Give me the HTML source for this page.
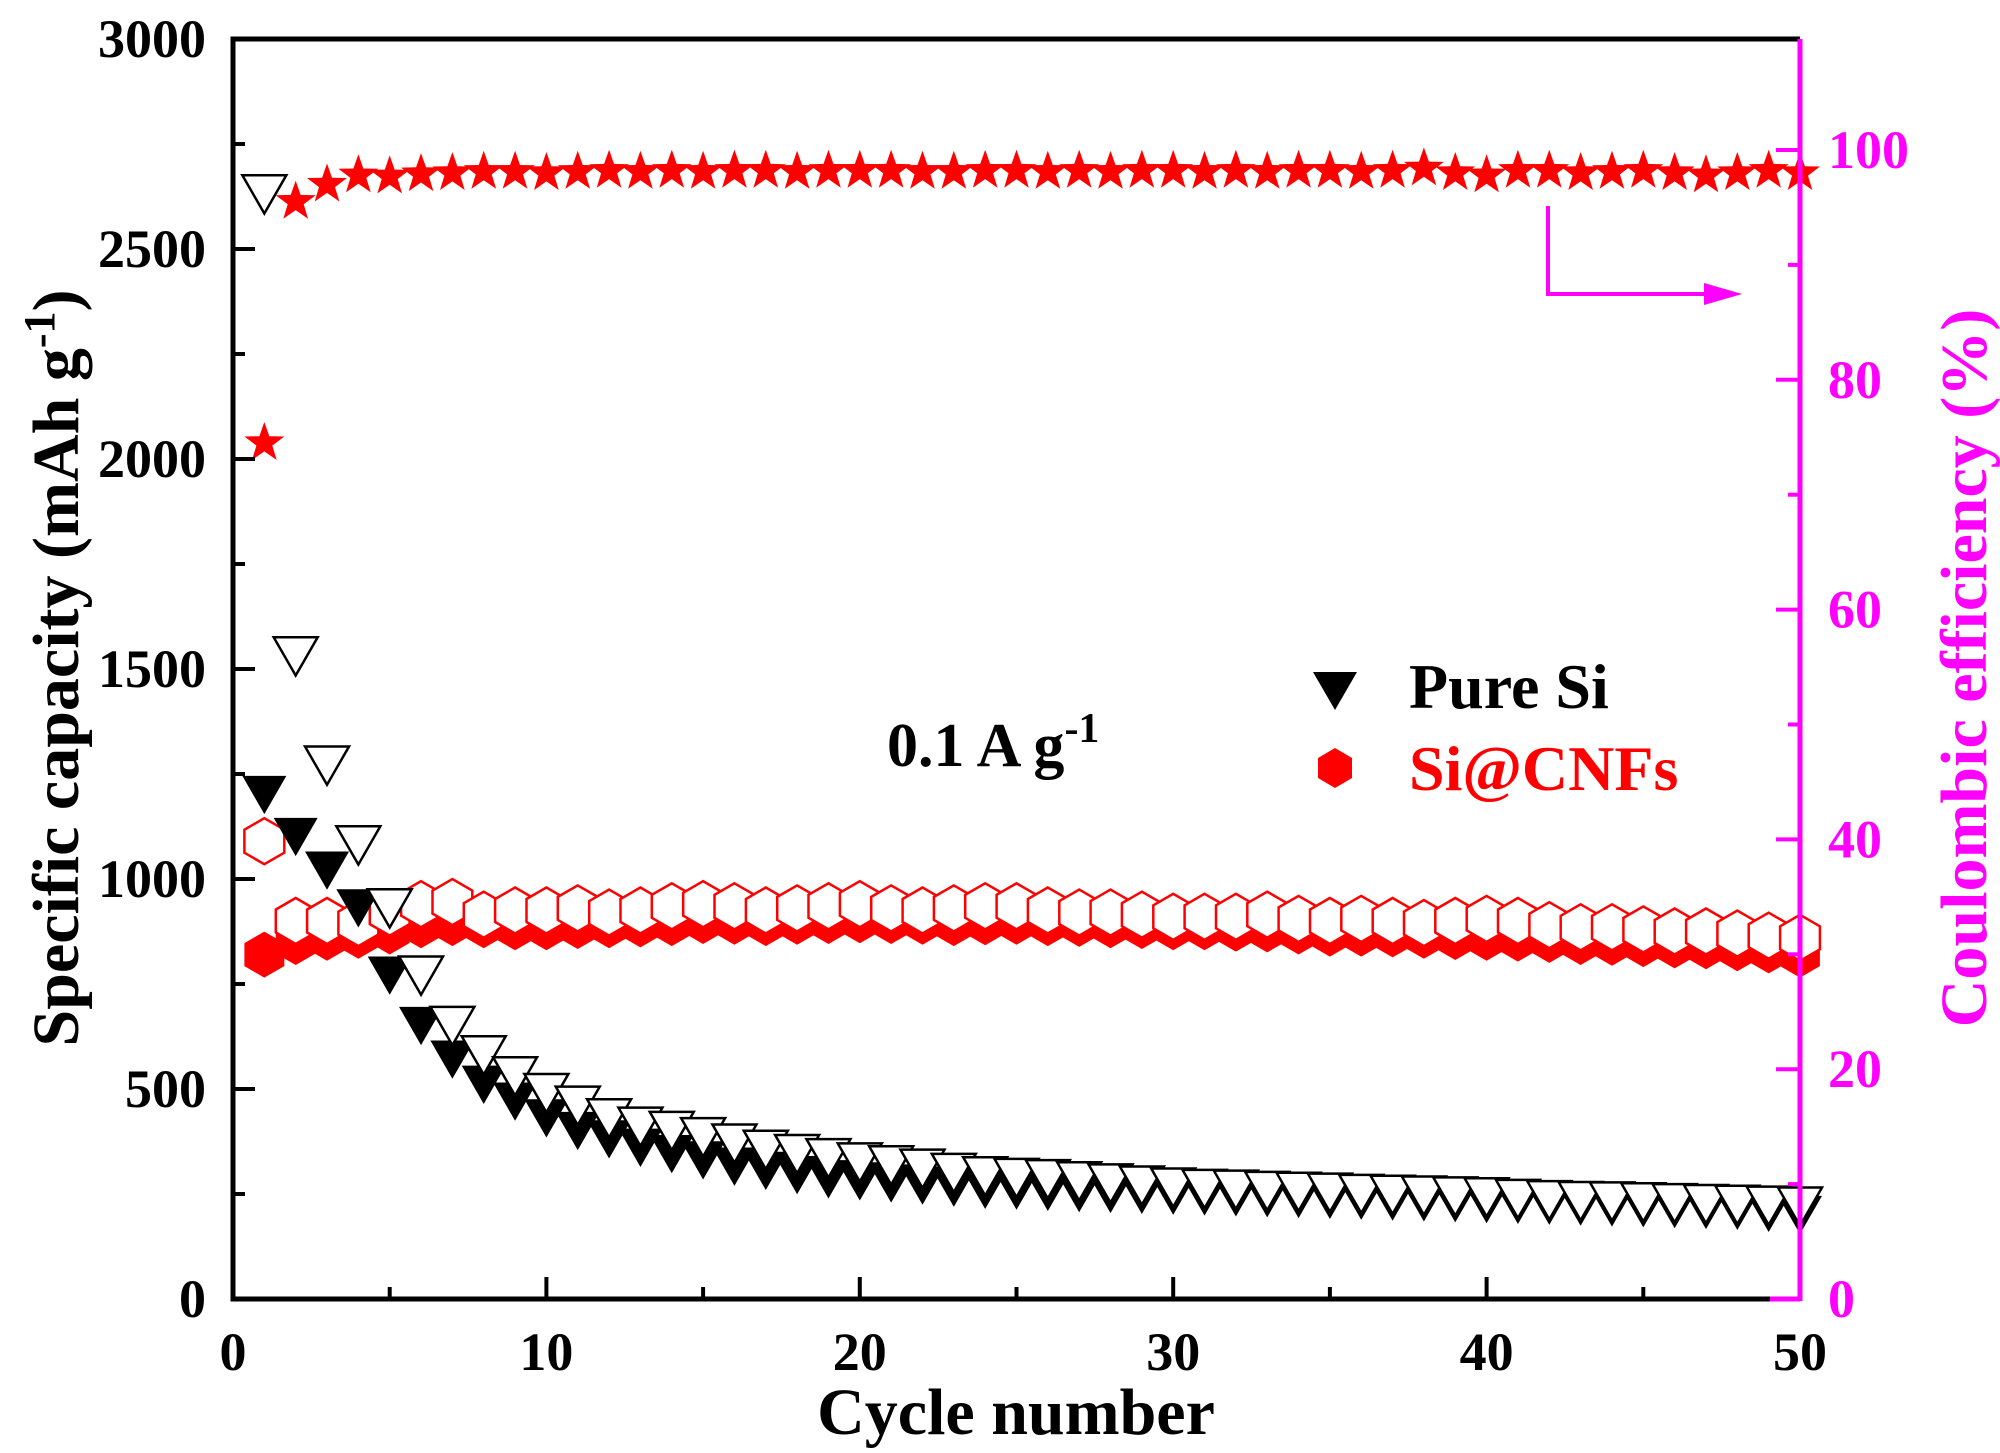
<!DOCTYPE html>
<html><head><meta charset="utf-8">
<style>
html,body{margin:0;padding:0;background:#fff;}
svg{display:block;font-family:"Liberation Serif",serif;font-weight:bold;}
</style></head>
<body>
<svg id="chart" width="2000" height="1453" viewBox="0 0 2000 1453" xmlns="http://www.w3.org/2000/svg"></svg>
<script>
const cycles = Array.from({length:50},(_, i)=>i+1);
const siCharge = [1200,1100,1020,930,770,650,570,510,470,430,400,380,360,345,330,315,305,295,285,280,275,270,265,260,258,255,252,250,248,246,244,242,240,238,236,234,232,230,228,226,224,222,220,218,216,214,212,210,205,200];
const siDischarge = [2630,1530,1270,1080,930,770,650,580,530,490,460,430,410,400,385,370,355,345,335,325,318,310,300,292,288,285,280,275,270,265,262,260,257,255,253,250,248,246,244,242,238,235,233,232,230,228,226,224,222,220];
const cnfCharge = [820,850,860,865,875,890,895,890,885,885,888,890,892,895,900,898,895,898,900,902,900,898,895,897,898,895,893,890,888,885,885,882,880,875,870,870,868,865,862,860,858,855,850,848,845,842,840,835,830,820];
const cnfDischarge = [1090,900,900,895,920,940,945,915,925,925,930,920,925,935,940,935,925,930,935,940,930,925,930,935,935,925,920,920,915,910,910,910,915,905,900,905,900,895,900,905,900,890,885,885,880,875,875,870,865,860];
const cnfCE = [74.5,95.5,97,97.8,97.7,97.9,98,98.1,98.1,98,98.1,98.2,98.1,98.2,98.1,98.2,98.2,98.1,98.2,98.2,98.2,98.1,98.1,98.2,98.2,98.1,98.2,98.1,98.2,98.2,98.1,98.2,98.1,98.2,98.2,98.1,98.2,98.4,98,97.8,98.2,98.2,98,98.1,98.2,98,97.8,98,98.2,98];
const xTicks = [0,10,20,30,40,50];
const yTicks = [0,500,1000,1500,2000,2500,3000];
const y2Ticks = [0,20,40,60,80,100];

const L=233,R=1800,T=39,B=1299;
const X=v=>L+(v/50)*(R-L);
const Y=v=>B-(v/3000)*(B-T);
const Y2=v=>B-(v/100)*(B-150);
const svg=document.getElementById('chart');
const NS='http://www.w3.org/2000/svg';
function mk(tag,attrs,parent){const e=document.createElementNS(NS,tag);for(const k in attrs)e.setAttribute(k,attrs[k]);(parent||svg).appendChild(e);return e;}

function tri(x,y,s){const h=s*0.87;return `${x-s/2},${y-h/2} ${x+s/2},${y-h/2} ${x},${y+h/2}`;}
function hex(x,y,r){let p=[];for(let i=0;i<6;i++){const a=Math.PI/180*(60*i-90);p.push((x+r*Math.cos(a)).toFixed(1)+','+(y+r*Math.sin(a)).toFixed(1));}return p.join(' ');}
function star(x,y,r){let p=[];for(let i=0;i<10;i++){const rr=i%2?r*0.4:r;const a=Math.PI/180*(36*i-90);p.push((x+rr*Math.cos(a)).toFixed(1)+','+(y+rr*Math.sin(a)).toFixed(1));}return p.join(' ');}

const gCC=mk('g',{});
cnfCharge.forEach((v,i)=>{const e=mk('polygon',{points:hex(X(cycles[i]),Y(v),23),fill:'#f00'},gCC);});
const gCD=mk('g',{});
cnfDischarge.forEach((v,i)=>{const e=mk('polygon',{points:hex(X(cycles[i]),Y(v),23),fill:'#fff',stroke:'#f00','stroke-width':2.5},gCD);});
const gSC=mk('g',{});
siCharge.forEach((v,i)=>{const e=mk('polygon',{points:tri(X(cycles[i]),Y(v),44),fill:'#000'},gSC);});
const gSD=mk('g',{});
siDischarge.forEach((v,i)=>{const e=mk('polygon',{points:tri(X(cycles[i]),Y(v),44),fill:'#fff',stroke:'#000','stroke-width':2.5},gSD);});
const gCE=mk('g',{});
cnfCE.forEach((v,i)=>{const e=mk('polygon',{points:star(X(cycles[i]),Y2(v),21),fill:'#f00'},gCE);});

const ax=mk('g',{stroke:'#000','stroke-width':5,fill:'none'});
mk('polyline',{points:`${R},${T} ${L},${T} ${L},${B} ${R-30},${B}`},ax);
mk('line',{x1:R-30,y1:B,x2:R,y2:B,stroke:'#f0f'},ax);
mk('line',{x1:R,y1:T,x2:R,y2:B+2,stroke:'#f0f'},ax);
for(let v=0;v<=50;v+=5){const maj=v%10===0;mk('line',{x1:X(v),y1:B,x2:X(v),y2:B-(maj?22:12),stroke:(v===50?'#f0f':'#000'),'stroke-width':4},ax);}
xTicks.forEach(v=>{const t=mk('text',{x:X(v),y:1370,'font-size':54,'text-anchor':'middle',fill:'#000'});t.textContent=v;});
for(let v=0;v<=3000;v+=250){const maj=v%500===0;mk('line',{x1:L,y1:Y(v),x2:L+(maj?22:12),y2:Y(v),'stroke-width':4},ax);}
yTicks.forEach(v=>{const t=mk('text',{x:206,y:Y(v)+18,'font-size':54,'text-anchor':'end',fill:'#000'});t.textContent=v;});
for(let v=0;v<=100;v+=10){const maj=v%20===0;mk('line',{x1:R,y1:Y2(v),x2:R-(maj?24:12),y2:Y2(v),stroke:'#f0f','stroke-width':4},ax);}
y2Ticks.forEach(v=>{const t=mk('text',{x:1828,y:Y2(v)+18,'font-size':54,'text-anchor':'start',fill:'#f0f'});t.textContent=v;});
</script>
<svg style="position:absolute;left:0;top:0" width="2000" height="1453">
<text x="1016" y="1434" font-size="66" text-anchor="middle" fill="#000" font-family="Liberation Serif, serif" font-weight="bold">Cycle number</text>
<text transform="translate(78,668) rotate(-90)" font-size="66" text-anchor="middle" fill="#000" font-family="Liberation Serif, serif" font-weight="bold">Specific capacity (mAh g<tspan dy="-24" font-size="44">-1</tspan><tspan dy="24">)</tspan></text>
<text transform="translate(1986,668) rotate(-90)" font-size="66" text-anchor="middle" fill="#f0f" font-family="Liberation Serif, serif" font-weight="bold">Coulombic efficiency (%)</text>
<text x="887" y="766" font-size="62" fill="#000" font-family="Liberation Serif, serif" font-weight="bold">0.1 A g<tspan dy="-24" font-size="42">-1</tspan></text>
<g font-family="Liberation Serif, serif" font-weight="bold" font-size="64">
<polygon points="1313,672 1357,672 1335,710" fill="#000"/>
<text x="1409" y="708" fill="#000">Pure Si</text>
<polygon points="1335,748 1352,758 1352,778 1335,788 1318,778 1318,758" fill="#f00"/>
<text x="1409" y="790" fill="#f00">Si@CNFs</text>
</g>
<g>
<polyline points="1548,206 1548,294 1710,294" fill="none" stroke="#f0f" stroke-width="4"/>
<polygon points="1742,294 1704,283 1704,305" fill="#f0f"/>
</g>
</svg>
</body></html>
